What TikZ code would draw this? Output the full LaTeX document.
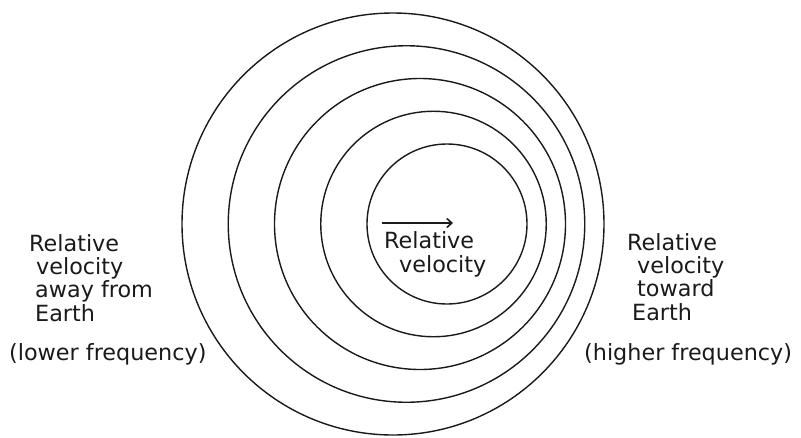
\documentclass[tikz,border=0pt]{standalone}
\usepackage{fontspec}
\usepackage{tikz}
\usetikzlibrary{
  arrows.meta,
  positioning,
  calc
}
\newfontfamily\handfont{DejaVu Sans}
\definecolor{dpInk}{HTML}{1A1A1A}
\tikzset{
  wavefront/.style={draw=dpInk, line width=1.4pt},
  dplabel/.style={
    font=\handfont\fontsize{22.3}{23.3}\selectfont, text=dpInk,
    align=left, inner sep=0pt, anchor=base west
  },
  velarrow/.style={-{Straight Barb[length=5pt, width=9pt]}, line width=1.6pt, dpInk}
}

\begin{document}
\begin{tikzpicture}[x=1pt, y=-1pt]
  \useasboundingbox (0,0) rectangle (801,437);
  \foreach \k in {0,...,4}
    \draw[wavefront] ({447-13.5*\k},224) circle ({80+32.75*\k});
  \coordinate (veltail) at (382,223);
  \coordinate (velhead) at (453,223);
  \draw[velarrow] (veltail) -- (velhead);
  \node[dplabel] (srcvel) at (384,272) {Relative\\\hspace*{15pt}velocity};
  \node[dplabel] (awaytxt) at (29,321) {Relative\\\hspace*{7pt}velocity\\\hspace*{6pt}away from\\\hspace*{6pt}Earth};
  \node[dplabel] (lowfreq) at (9,360) {(lower frequency)};
  \node[dplabel] (towardtxt) at (627,320) {Relative\\\hspace*{10pt}velocity\\\hspace*{10pt}toward\\\hspace*{5pt}Earth};
  \node[dplabel] (highfreq) at (584,360) {(higher frequency)};
\end{tikzpicture}
\end{document}
